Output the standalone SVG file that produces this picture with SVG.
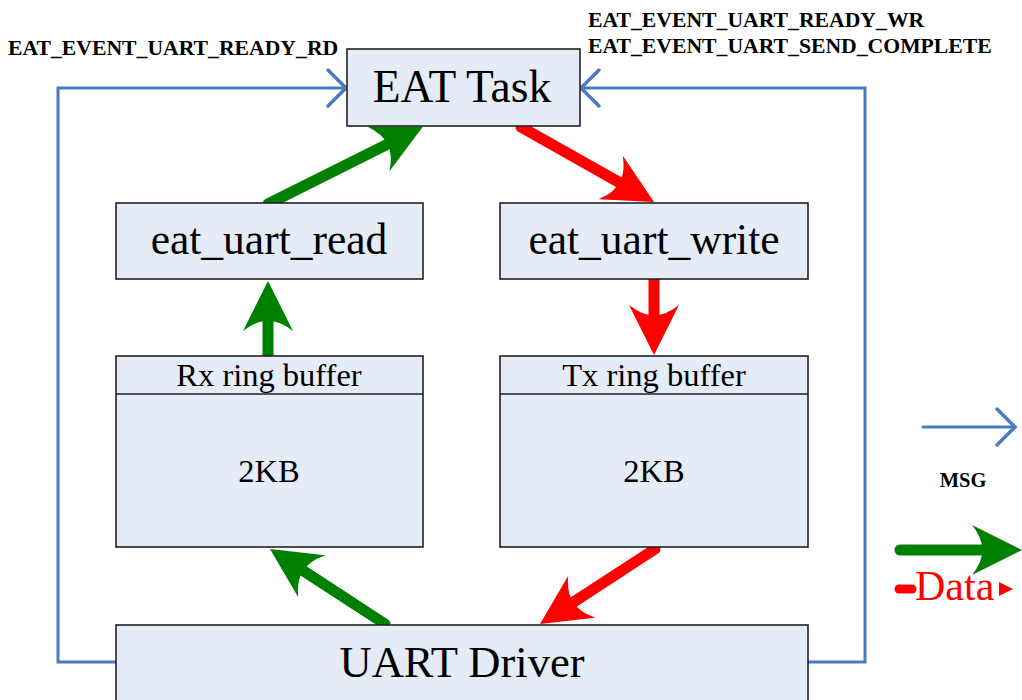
<svg xmlns="http://www.w3.org/2000/svg" width="1022" height="700" viewBox="0 0 1022 700">
<style>
.box{fill:#E6ECF7;stroke:#222;stroke-width:1.6}
.big{font-family:"Liberation Serif","Times New Roman",serif;font-size:43.5px;fill:#000;text-anchor:middle}
.mid{font-family:"Liberation Serif","Times New Roman",serif;font-size:32.5px;fill:#000;text-anchor:middle}
.lbl{font-family:"Liberation Serif","Times New Roman",serif;font-size:21.7px;font-weight:bold;fill:#000}
.msg{fill:none;stroke:#4A7BC4;stroke-width:3;stroke-linejoin:miter}
.chev{fill:none;stroke:#4A7BC4;stroke-width:3.5;stroke-linecap:round;stroke-linejoin:miter}
.g{stroke:#008000;stroke-width:11;stroke-linecap:round;fill:none;marker-end:url(#hg)}
.r{stroke:#FF0000;stroke-width:11;stroke-linecap:round;fill:none;marker-end:url(#hr)}
</style>
<defs>
<marker id="hg" viewBox="0 0 50 50" markerWidth="50" markerHeight="50" refX="10" refY="25" orient="auto" markerUnits="userSpaceOnUse">
<path d="M50,25 L0,0 Q11,14 10,25 Q11,36 0,50 Z" fill="#008000"/>
</marker>
<marker id="hr" viewBox="0 0 50 50" markerWidth="50" markerHeight="50" refX="10" refY="25" orient="auto" markerUnits="userSpaceOnUse">
<path d="M50,25 L0,0 Q11,14 10,25 Q11,36 0,50 Z" fill="#FF0000"/>
</marker>
</defs>
<rect width="1022" height="700" fill="#fff"/>
<g id="connectors">
<path class="msg" d="M116,662 H58 V88 H345"/>
<path class="chev" d="M328,70 L346,88 L328,106"/>
<path class="msg" d="M807,662 H865 V88 H582"/>
<path class="chev" d="M599,70 L581,88 L599,106"/>
<line class="g" x1="268" y1="204" x2="387.2" y2="144.4"/>
<line class="g" x1="268" y1="358" x2="268" y2="321"/>
<line class="g" x1="385" y1="624" x2="303.5" y2="570.8"/>
<line class="r" x1="521" y1="127" x2="619.2" y2="182.4"/>
<line class="r" x1="654" y1="280" x2="654" y2="315"/>
<line class="r" x1="655" y1="549" x2="573.5" y2="602.2"/>
</g>
<g id="eat_task">
<rect class="box" x="347" y="49" width="233" height="77"/>
<text class="big" x="462" y="102" style="font-size:45.5px">EAT Task</text>
</g>
<g id="eat_uart_read">
<rect class="box" x="116" y="203" width="307" height="76"/>
<text class="big" x="269" y="254">eat_uart_read</text>
</g>
<g id="eat_uart_write">
<rect class="box" x="500" y="203" width="308" height="76"/>
<text class="big" x="654" y="254">eat_uart_write</text>
</g>
<g id="rx_ring_buffer">
<rect class="box" x="116" y="356" width="307" height="191"/>
<line x1="116" y1="394" x2="423" y2="394" stroke="#222" stroke-width="1.6"/>
<text class="mid" x="269" y="386">Rx ring buffer</text>
<text class="mid" x="269" y="482">2KB</text>
</g>
<g id="tx_ring_buffer">
<rect class="box" x="500" y="356" width="308" height="191"/>
<line x1="500" y1="394" x2="808" y2="394" stroke="#222" stroke-width="1.6"/>
<text class="mid" x="654" y="386">Tx ring buffer</text>
<text class="mid" x="654" y="482">2KB</text>
</g>
<g id="uart_driver">
<rect class="box" x="116" y="625" width="692" height="90"/>
<text class="big" x="462" y="677" style="font-size:44.5px">UART Driver</text>
</g>
<g id="labels">
<text class="lbl" x="8" y="55">EAT_EVENT_UART_READY_RD</text>
<text class="lbl" x="588" y="27">EAT_EVENT_UART_READY_WR</text>
<text class="lbl" x="588" y="53">EAT_EVENT_UART_SEND_COMPLETE</text>
</g>
<g id="legend">
<line x1="923" y1="427" x2="1015" y2="427" stroke="#4A7BC4" stroke-width="3" stroke-linecap="round"/>
<path class="chev" d="M997,409 L1015,427 L997,445"/>
<text class="lbl" x="963" y="487" text-anchor="middle" style="font-size:20.5px">MSG</text>
<line x1="900" y1="550" x2="982" y2="550" stroke="#008000" stroke-width="11" stroke-linecap="round" marker-end="url(#hg)"/>
<line x1="899" y1="589" x2="912" y2="589" stroke="#FF0000" stroke-width="9" stroke-linecap="round"/>
<path d="M999,582 L1013,589 L999,596 Z" fill="#FF0000"/>
<text x="915" y="600" font-family="Liberation Serif,'Times New Roman',serif" font-size="42" fill="#FF0000">Data</text>
</g>
</svg>
